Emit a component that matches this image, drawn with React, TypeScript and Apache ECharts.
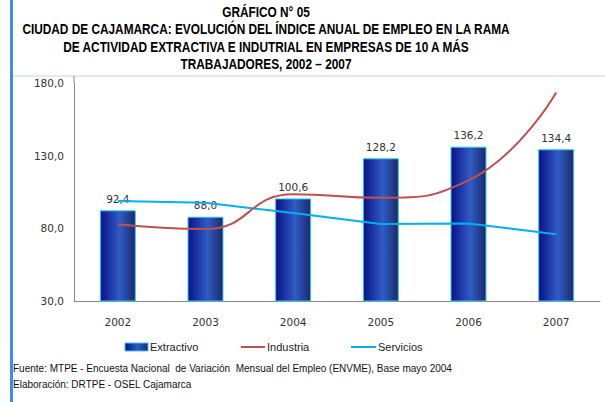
import React, { useEffect, useRef } from "react";
import * as echarts from "echarts";

const years = ["2002", "2003", "2004", "2005", "2006", "2007"];
const extractivo = [92.4, 88.0, 100.6, 128.2, 136.2, 134.4];
const industria = [82.8, 79.5, 103.5, 101.0, 113.0, 173.5];
const servicios = [98.8, 97.6, 90.5, 83.0, 83.4, 75.9];

const titleLines = [
  "GRÁFICO N° 05",
  "CIUDAD DE CAJAMARCA: EVOLUCIÓN DEL ÍNDICE ANUAL DE EMPLEO EN LA RAMA",
  "DE ACTIVIDAD EXTRACTIVA E INDUTRIAL EN EMPRESAS DE 10 A MÁS",
  "TRABAJADORES, 2002 – 2007",
];
const footLines = [
  "Fuente: MTPE - Encuesta Nacional  de Variación  Mensual del Empleo (ENVME), Base mayo 2004",
  "Elaboración: DRTPE - OSEL Cajamarca",
];
const legendNames = ["Extractivo", "Industria", "Servicios"];

const fmt = (v: number) => v.toFixed(1).replace(".", ",");

export default function App() {
  const ref = useRef<HTMLDivElement>(null);
  useEffect(() => {
    if (!ref.current) return;
    const chart = echarts.init(ref.current, null, { renderer: "svg" });
    const mkGrad = () =>
      new echarts.graphic.LinearGradient(0, 0, 1, 0, [
        { offset: 0, color: "#0a1288" },
        { offset: 0.55, color: "#2f5cc4" },
        { offset: 1, color: "#1b2a6b" },
      ]);
    const titleFont = "'Liberation Sans', Arial, sans-serif";
    const legendText = (t: string, x: number) => ({
      type: "text",
      x,
      y: 347,
      style: {
        text: t,
        fill: "#222222",
        font: "11px 'Liberation Sans', sans-serif",
        textAlign: "left",
        textVerticalAlign: "middle",
      },
    });
    chart.setOption({
      animation: false,
      backgroundColor: "#ffffff",
      grid: { left: 74, right: 5, top: 83, bottom: 101 },
      xAxis: {
        type: "category",
        data: years,
        axisLine: { lineStyle: { color: "#888888", width: 1 } },
        axisTick: { show: false },
        axisLabel: {
          margin: 15,
          color: "#333333",
          fontFamily: "DejaVu Sans",
          fontSize: 10.5,
        },
      },
      yAxis: {
        type: "value",
        min: 30,
        max: 180,
        interval: 50,
        axisLine: { show: true, lineStyle: { color: "#888888", width: 1 } },
        axisTick: { show: false },
        splitLine: { show: false },
        axisLabel: {
          margin: 10,
          color: "#333333",
          fontFamily: "DejaVu Sans",
          fontSize: 10.5,
          formatter: (v: number) => fmt(v),
        },
      },
      graphic: [
        { type: "rect", shape: { x: 10, y: 0, width: 3, height: 402 }, style: { fill: "#3a8ef0" } },
        { type: "line", shape: { x1: 13, y1: 76, x2: 605, y2: 76 }, style: { stroke: "#c8d4e8", lineWidth: 1 } },
        { type: "line", shape: { x1: 74, y1: 76, x2: 74, y2: 83 }, style: { stroke: "#888888", lineWidth: 1 } },
        ...titleLines.map((t, i) => ({
          type: "text",
          x: 266,
          y: 12 + i * 17.5,
          scaleX: 0.79,
          style: {
            text: t,
            fill: "#000000",
            font: `bold 15px ${titleFont}`,
            textAlign: "center",
            textVerticalAlign: "middle",
          },
        })),
        ...footLines.map((t, i) => ({
          type: "text",
          x: 13,
          y: 368 + i * 16,
          style: {
            text: t,
            fill: "#111111",
            font: "10px 'Liberation Sans', sans-serif",
            textAlign: "left",
            textVerticalAlign: "middle",
          },
        })),
        {
          type: "rect",
          shape: { x: 125, y: 343, width: 23, height: 8 },
          style: { fill: mkGrad(), stroke: "#33ccff", lineWidth: 1 },
        },
        legendText(legendNames[0], 150),
        { type: "line", shape: { x1: 241, y1: 347, x2: 265, y2: 347 }, style: { stroke: "#c0504d", lineWidth: 2 } },
        legendText(legendNames[1], 267),
        { type: "line", shape: { x1: 351, y1: 347, x2: 376, y2: 347 }, style: { stroke: "#00b0f0", lineWidth: 2 } },
        legendText(legendNames[2], 378),
      ],
      series: [
        {
          name: legendNames[0],
          type: "bar",
          data: extractivo,
          barWidth: 36,
          itemStyle: { color: mkGrad(), borderColor: "#33ccff", borderWidth: 1 },
          label: {
            show: true,
            position: "top",
            distance: 6,
            color: "#333333",
            fontFamily: "DejaVu Sans",
            fontSize: 10.5,
            formatter: (p: any) => fmt(p.value),
          },
          z: 1,
        },
        {
          name: legendNames[1],
          type: "line",
          data: industria,
          smooth: 0.5,
          symbol: "none",
          lineStyle: { color: "#c0504d", width: 2 },
          itemStyle: { color: "#c0504d" },
          z: 3,
        },
        {
          name: legendNames[2],
          type: "line",
          data: servicios,
          symbol: "none",
          lineStyle: { color: "#00b0f0", width: 2 },
          itemStyle: { color: "#00b0f0" },
          z: 2,
        },
      ],
    });
    return () => chart.dispose();
  }, []);
  return <div ref={ref} style={{ width: 605, height: 402, position: "absolute", left: 0, top: 0 }} />;
}
